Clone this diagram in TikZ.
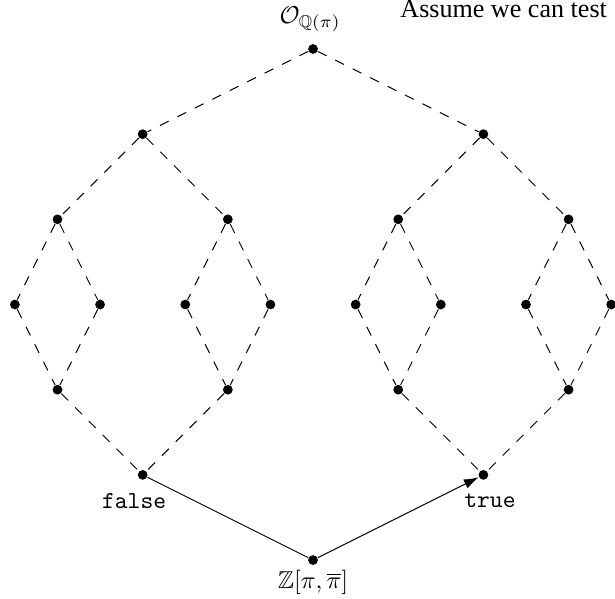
\documentclass[tikz,border=0pt]{standalone}
\usepackage{amsmath,amssymb}
\usepackage{fontspec}
\newfontfamily\notefont{Liberation Serif}
\usetikzlibrary{arrows.meta}

\begin{document}
\begin{tikzpicture}[x=17.47pt,y=17.47pt,>={Latex[length=6pt,width=4pt]},
    vtx/.style={circle,fill=black,inner sep=0pt,minimum size=4pt},
    lattice/.style={dash pattern=on 4pt off 4pt,line width=0.4pt},
    map/.style={line width=0.4pt}]
  \useasboundingbox (-7.35,-12.91) rectangle (7.09,1.15);
  \node[vtx,label={[xshift=-1.2pt,yshift=1.2pt]above:$\mathcal{O}_{\mathbb{Q}(\pi)}$}] (ok) at (0,0) {};
  \node[anchor=base west] (note) at (1.85,0.75) {\notefont\fontsize{10.7pt}{12pt}\selectfont Assume we can test};
  \node[vtx] (a1) at (-4,-2) {};
  \node[vtx] (a2) at (4,-2) {};
  \node[vtx] (b1) at (-6,-4) {};
  \node[vtx] (b2) at (-2,-4) {};
  \node[vtx] (b3) at (2,-4) {};
  \node[vtx] (b4) at (6,-4) {};
  \foreach \i/\x in {1/-7,2/-5,3/-3,4/-1,5/1,6/3,7/5,8/7}
    \node[vtx] (c\i) at (\x,-6) {};
  \node[vtx] (d1) at (-6,-8) {};
  \node[vtx] (d2) at (-2,-8) {};
  \node[vtx] (d3) at (2,-8) {};
  \node[vtx] (d4) at (6,-8) {};
  \node[vtx,label={[xshift=-3.5pt,yshift=-2pt]below:\texttt{false}}] (fls) at (-4,-10) {};
  \node[vtx,label={[xshift=2.7pt,yshift=-2pt]below:\texttt{true}}] (tru) at (4,-10) {};
  \node[vtx,label={[yshift=1.5pt]below:$\mathbb{Z}[\pi,\overline{\pi}]$}] (zz) at (0,-12) {};

  \foreach \p/\q in {ok/a1,ok/a2,a1/b1,a1/b2,a2/b3,a2/b4,
                     b1/c1,b1/c2,b2/c3,b2/c4,b3/c5,b3/c6,b4/c7,b4/c8,
                     c1/d1,c2/d1,c3/d2,c4/d2,c5/d3,c6/d3,c7/d4,c8/d4,
                     d1/fls,d2/fls,d3/tru,d4/tru}
    \draw[lattice] (\p) -- (\q);
  \draw[map] (zz) -- (fls);
  \draw[map,->] (zz) -- (tru);
\end{tikzpicture}
\end{document}
